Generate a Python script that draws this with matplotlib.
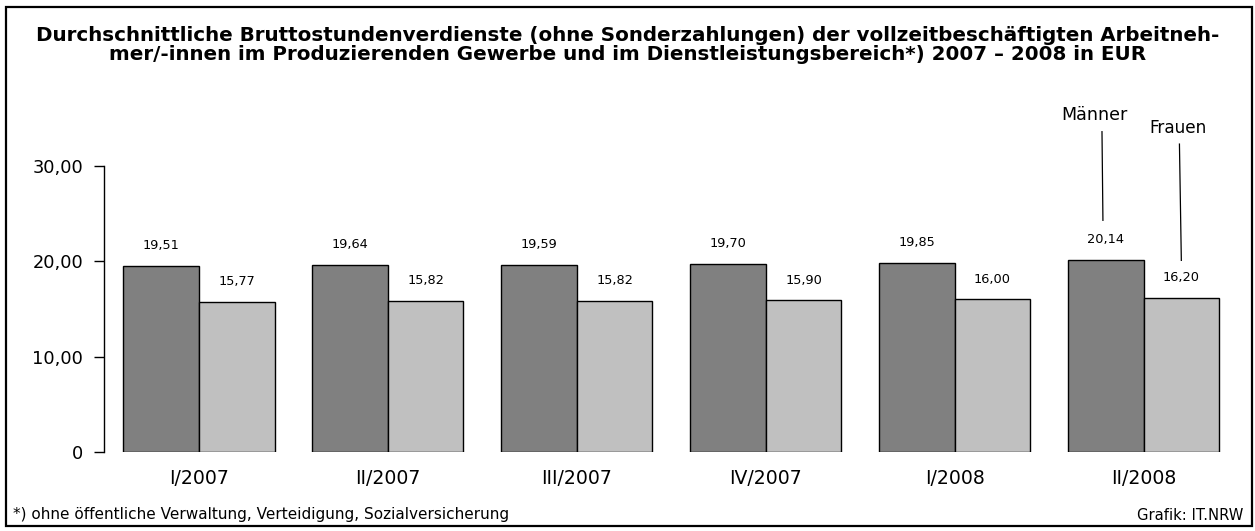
import matplotlib
matplotlib.use("Agg")
import matplotlib.pyplot as plt
import numpy as np
from matplotlib.patches import Rectangle

quarters = ["I/2007", "II/2007", "III/2007", "IV/2007", "I/2008", "II/2008"]
maenner = [19.51, 19.64, 19.59, 19.70, 19.85, 20.14]
frauen = [15.77, 15.82, 15.82, 15.90, 16.00, 16.20]
y_ticks = [0, 10, 20, 30]
y_tick_labels = ["0", "10,00", "20,00", "30,00"]

TITLE = ("Durchschnittliche Bruttostundenverdienste (ohne Sonderzahlungen) der vollzeitbeschäftigten Arbeitneh-\n"
         "mer/-innen im Produzierenden Gewerbe und im Dienstleistungsbereich*) 2007 – 2008 in EUR")
FOOTNOTE = "*) ohne öffentliche Verwaltung, Verteidigung, Sozialversicherung"
SOURCE = "Grafik: IT.NRW"

DARK = "#808080"
LIGHT = "#c0c0c0"

plt.rcParams["font.family"] = ["DejaVu Sans"]

W, H = 1255, 531
fig = plt.figure(figsize=(W / 100, H / 100), dpi=100)

# frame around the whole graphic
fig.patches.append(Rectangle((6 / W, 5 / H), 1246 / W, 519 / H, transform=fig.transFigure,
                             fill=False, edgecolor="black", linewidth=1.6))

ax = fig.add_axes([104 / W, 79 / H, (1238 - 104) / W, (452 - 166) / H])

x = np.arange(len(quarters))
bw = 0.4
ax.bar(x - bw / 2, maenner, bw, color=DARK, edgecolor="black", linewidth=1.0)
ax.bar(x + bw / 2, frauen, bw, color=LIGHT, edgecolor="black", linewidth=1.0)

for xi, m, f in zip(x, maenner, frauen):
    ax.annotate(f"{m:.2f}".replace(".", ","), (xi - bw / 2, m), xytext=(0, 10),
                textcoords="offset points", ha="center", va="bottom", fontsize=9.3)
    ax.annotate(f"{f:.2f}".replace(".", ","), (xi + bw / 2, f), xytext=(0, 10),
                textcoords="offset points", ha="center", va="bottom", fontsize=9.3)

# series labels with leader lines at the last group
last = x[-1]
ax.plot([last - bw / 2 - 0.02, last - bw / 2 - 0.015], [33.6, 24.3], color="black", lw=0.9, clip_on=False)
ax.text(last - bw / 2 - 0.06, 35.3, "Männer", ha="center", va="center", fontsize=12.6)
ax.plot([last + bw / 2 - 0.01, last + bw / 2], [32.3, 20.1], color="black", lw=0.9, clip_on=False)
ax.text(last + bw / 2 - 0.02, 34.0, "Frauen", ha="center", va="center", fontsize=12.2)

ax.set_xlim(-0.503, 5.5)
ax.set_ylim(0, 30)
ax.set_yticks(y_ticks)
ax.set_yticklabels(y_tick_labels, fontsize=12.8)
ax.set_xticks(x)
ax.set_xticklabels(quarters, fontsize=13.6)
ax.tick_params(axis="y", length=7, width=1.0, pad=8, direction="out")
ax.tick_params(axis="x", length=0, pad=12)
for side in ["top", "right", "bottom"]:
    ax.spines[side].set_visible(False)
ax.spines["left"].set_linewidth(1.0)

fig.text(0.5, 1 - 45 / H, TITLE, ha="center", va="center", fontsize=14.3,
         fontweight="bold", linespacing=1.0)
fig.text(13 / W, 1 - 515 / H, FOOTNOTE, ha="left", va="center", fontsize=11.0)
fig.text(1243 / W, 1 - 516 / H, SOURCE, ha="right", va="center", fontsize=10.6)

fig.savefig("out.png", dpi=100)
